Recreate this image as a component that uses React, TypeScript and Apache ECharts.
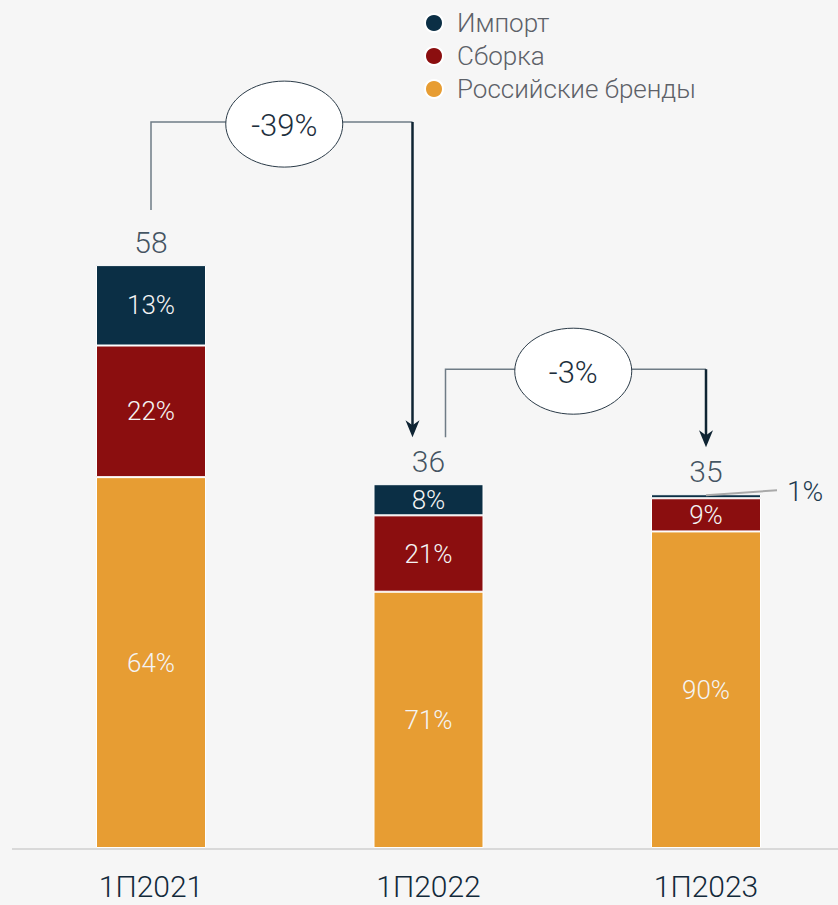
import React, { useEffect, useRef } from "react";
import * as echarts from "echarts";

const categories = ["1П2021", "1П2022", "1П2023"];
const brandsValues = [36.9, 25.5, 31.5];
const assemblyValues = [13.1, 7.6, 3.3];
const importValues = [8.0, 3.1, 0.4];
const brandsLabels = ["64%", "71%", "90%"];
const assemblyLabels = ["22%", "21%", "9%"];
const importLabels = ["13%", "8%", "1%"];
const totalLabels = ["58", "36", "35"];
const changeLabels = ["-39%", "-3%"];
const seriesNames = ["Импорт", "Сборка", "Российские бренды"];

const NAVY = "#0b2f45";
const RED = "#8b0e0f";
const ORANGE = "#e79d33";
const DARK = "#12293a";
const FONT = "Roboto, 'Liberation Sans', Arial, sans-serif";
const FW = 300;

export default function App() {
  const ref = useRef<HTMLDivElement>(null);
  useEffect(() => {
    if (!ref.current) return;
    const chart = echarts.init(ref.current, null, { renderer: "svg" });
    const totals = brandsValues.map((v, i) => v + assemblyValues[i] + importValues[i]);
    const segLabel = (arr: string[]) => ({
      show: true,
      position: "inside",
      color: "#f4f4f4",
      fontSize: 26,
      fontFamily: FONT,
      fontWeight: FW,
      formatter: (p: any) => arr[p.dataIndex],
    });
    const barItem = (color: string) => ({ color, borderColor: "#ffffff", borderWidth: 1 });
    const option: any = {
      animation: false,
      backgroundColor: "#f6f6f6",
      legend: {
        orient: "vertical",
        left: 419,
        top: 5,
        icon: "circle",
        itemWidth: 18,
        itemHeight: 18,
        itemGap: 7,
        data: seriesNames,
        textStyle: {
          fontSize: 26,
          color: "#5d6168",
          fontFamily: FONT,
          fontWeight: FW,
          padding: [0, 0, 0, 9],
        },
      },
      grid: { left: 151, right: 132, top: 245, bottom: 57, containLabel: false },
      xAxis: {
        type: "category",
        data: categories,
        boundaryGap: false,
        axisLine: { show: false },
        axisTick: { show: false },
        axisLabel: {
          margin: 22,
          fontSize: 30,
          lineHeight: 32,
          color: DARK,
          fontFamily: FONT,
          fontWeight: FW,
        },
      },
      yAxis: { type: "value", min: 0, max: 60, show: false, splitLine: { show: false } },
      series: [
        {
          name: seriesNames[2],
          type: "bar",
          stack: "s",
          barWidth: 110,
          clip: false,
          data: brandsValues,
          itemStyle: barItem(ORANGE),
          label: segLabel(brandsLabels),
        },
        {
          name: seriesNames[1],
          type: "bar",
          stack: "s",
          clip: false,
          data: assemblyValues,
          itemStyle: barItem(RED),
          label: segLabel(assemblyLabels),
        },
        {
          name: seriesNames[0],
          type: "bar",
          stack: "s",
          clip: false,
          data: importValues.map((v, i) =>
            i === 2
              ? {
                  value: v,
                  label: {
                    show: true,
                    position: "right",
                    distance: 26,
                    offset: [0, -5],
                    color: "#1d3a4f",
                    fontSize: 28,
                    fontFamily: FONT,
                    fontWeight: FW,
                    formatter: () => importLabels[i],
                  },
                }
              : v
          ),
          itemStyle: barItem(NAVY),
          label: segLabel(importLabels),
        },
        {
          type: "scatter",
          data: totals,
          symbolSize: 0,
          silent: true,
          clip: false,
          label: {
            show: true,
            position: "top",
            distance: 8,
            color: DARK,
            fontSize: 30,
            fontFamily: FONT,
            fontWeight: FW,
            formatter: (p: any) => totalLabels[p.dataIndex],
          },
          tooltip: { show: false },
        },
      ],
    };
    chart.setOption(option);

    const px = (i: number, v: number) => chart.convertToPixel({ gridIndex: 0 } as any, [i, v]) as number[];
    const tops = totals.map((t, i) => px(i, t));
    const base = px(0, 0);
    const anns = [
      {
        sx: tops[0][0],
        sy: tops[0][1] - 55,
        by: tops[0][1] - 143,
        ex: tops[1][0] - 16,
        ty: tops[1][1] - 47,
        dx: 2.5,
        text: changeLabels[0],
      },
      {
        sx: tops[1][0] + 17,
        sy: tops[1][1] - 47,
        by: tops[1][1] - 115,
        ex: tops[2][0],
        ty: tops[2][1] - 47,
        dx: -2.5,
        text: changeLabels[1],
      },
    ];
    const graphic: any[] = [
      {
        type: "line",
        shape: { x1: 12, y1: base[1] + 1, x2: 838, y2: base[1] + 1 },
        style: { stroke: "#d9d9d9", lineWidth: 2 },
        z: 1,
      },
    ];
    anns.forEach((a) => {
      const cx = (a.sx + a.ex) / 2 + a.dx;
      graphic.push({
        type: "polyline",
        shape: { points: [[a.sx, a.sy], [a.sx, a.by], [a.ex, a.by]] },
        style: { stroke: "#6f7c86", lineWidth: 1.5, fill: null },
        z: 10,
      });
      graphic.push({
        type: "line",
        shape: { x1: a.ex, y1: a.by, x2: a.ex, y2: a.ty - 8 },
        style: { stroke: "#0f2433", lineWidth: 2.5 },
        z: 11,
      });
      graphic.push({
        type: "polygon",
        shape: {
          points: [
            [a.ex, a.ty],
            [a.ex - 7, a.ty - 17],
            [a.ex, a.ty - 12],
            [a.ex + 7, a.ty - 17],
          ],
        },
        style: { fill: "#0f2433" },
        z: 11,
      });
      graphic.push({
        type: "ellipse",
        shape: { cx, cy: a.by + 2, rx: 58.5, ry: 43 },
        style: { fill: "#ffffff", stroke: "#2b3b48", lineWidth: 1 },
        z: 12,
      });
      graphic.push({
        type: "text",
        x: cx,
        y: a.by + 3,
        style: {
          text: a.text,
          fontSize: 31,
          fontFamily: FONT,
          fontWeight: FW,
          fill: "#1d2f3d",
          align: "center",
          verticalAlign: "middle",
        },
        z: 13,
      });
    });
    // callout line for the 1% label
    const c0 = px(2, totals[2] - importValues[2] / 2);
    graphic.push({
      type: "line",
      shape: { x1: c0[0], y1: c0[1] - 1, x2: c0[0] + 71, y2: c0[1] - 6 },
      style: { stroke: "#a9a9a9", lineWidth: 2 },
      z: 9,
    });
    chart.setOption({ graphic });

    return () => chart.dispose();
  }, []);
  return (
    <div
      ref={ref}
      style={{ position: "fixed", left: 0, top: 0, width: 838, height: 905 }}
    />
  );
}
